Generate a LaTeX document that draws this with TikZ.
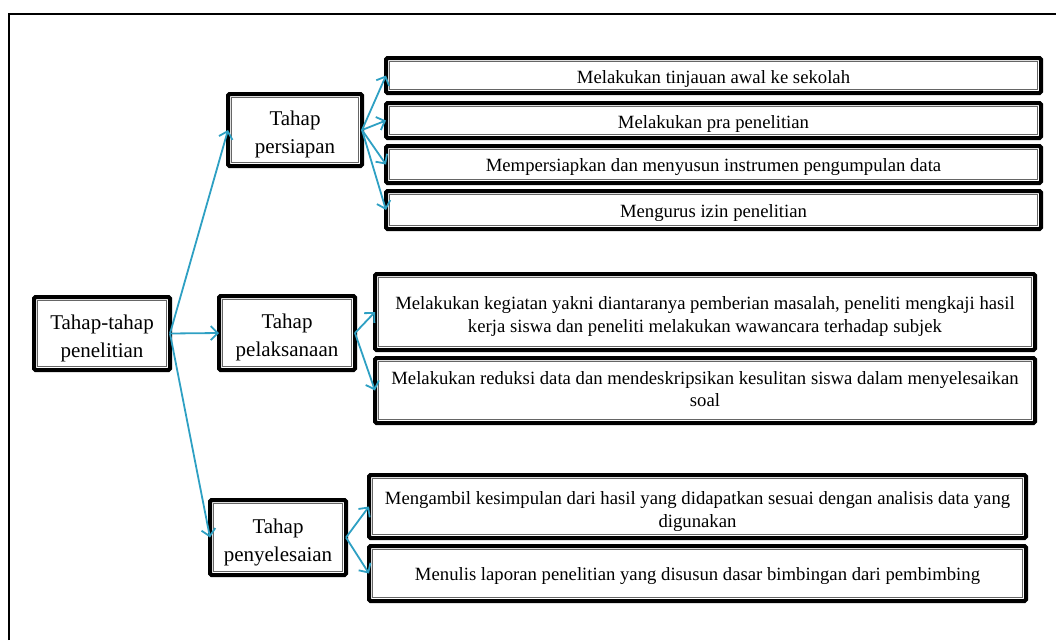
\documentclass[tikz,border=0pt]{standalone}
\usepackage{fontspec}
\setmainfont{Liberation Serif}
\usetikzlibrary{arrows.meta}
\definecolor{arrowc}{RGB}{46,160,195}
\newcommand{\mytxt}[2][4pt]{\raisebox{-#1}[\height][\depth]{\begin{tabular}{@{}c@{}}#2\end{tabular}}}
\tikzset{
  box/.style={draw=black, line width=4pt, rounded corners=1.5pt, inner sep=0pt, outer sep=0pt,
    align=center, fill=white,
    path picture={\draw[line width=1.1pt, draw=black!60, rounded corners=0pt]
      ([shift={(3.8pt,3.8pt)}]path picture bounding box.south west) rectangle
      ([shift={(-3.8pt,-3.8pt)}]path picture bounding box.north east);}},
  midbox/.style={box, font=\fontsize{21pt}{28pt}\selectfont},
  leafbox/.style={box, font=\fontsize{18.7pt}{22.5pt}\selectfont},
  onebox/.style={leafbox, execute at begin node={\rule{0pt}{19pt}}},
  arr/.style={draw=arrowc, line width=1.8pt, -{Straight Barb[length=7pt,width=14pt]}},
}
\begin{document}
\begin{tikzpicture}[x=1pt,y=-1pt]
\useasboundingbox (0,0) rectangle (1056,640);
\draw[line width=1.3pt] (9,640) -- (9,14) -- (1056,14);

\node[midbox, minimum width=136pt, minimum height=73pt] (root) at (102,333.5) {\mytxt{Tahap-tahap\\penelitian}};
\node[midbox, minimum width=134pt, minimum height=72pt] (pers) at (295,130) {\mytxt{Tahap\\persiapan}};
\node[midbox, minimum width=136pt, minimum height=74pt] (pel) at (287,333) {\mytxt{Tahap\\pelaksanaan}};
\node[midbox, minimum width=136pt, minimum height=75pt] (peny) at (278,537.5) {\mytxt{Tahap\\penyelesaian}};

\node[onebox, minimum width=655pt, minimum height=35pt] (l1) at (713.5,75.5) {Melakukan tinjauan awal ke sekolah};
\node[onebox, minimum width=655pt, minimum height=35pt] (l2) at (713.5,120.5) {Melakukan pra penelitian};
\node[onebox, minimum width=655pt, minimum height=37pt] (l3) at (713.5,164.5) {Mempersiapkan dan menyusun instrumen pengumpulan data};
\node[onebox, minimum width=655pt, minimum height=38pt] (l4) at (713.5,210) {Mengurus izin penelitian};

\node[leafbox, minimum width=660pt, minimum height=76pt] (m1) at (705,312) {\mytxt[4.5pt]{Melakukan kegiatan yakni diantaranya pemberian masalah, peneliti mengkaji hasil\\kerja siswa dan peneliti melakukan wawancara terhadap subjek}};
\node[leafbox, minimum width=660pt, minimum height=65pt] (m2) at (705,390.5) {\mytxt[0.5pt]{Melakukan reduksi data dan mendeskripsikan kesulitan siswa dalam menyelesaikan\\soal}};

\node[leafbox, minimum width=657pt, minimum height=63pt] (n1) at (697.5,506.5) {\mytxt[5pt]{Mengambil kesimpulan dari hasil yang didapatkan sesuai dengan analisis data yang\\digunakan}};
\node[onebox, minimum width=657pt, minimum height=55pt] (n2) at (697.5,573.5) {Menulis laporan penelitian yang disusun dasar bimbingan dari pembimbing};

\draw[arr] (root.east) -- (pers.west);
\draw[arr] (root.east) -- (pel.west);
\draw[arr] (root.east) -- (peny.west);

\draw[arr] (pers.east) -- (l1.west);
\draw[arr] (pers.east) -- (l2.west);
\draw[arr] (pers.east) -- (l3.west);
\draw[arr] (pers.east) -- (l4.west);

\draw[arr] (pel.east) -- (m1.west);
\draw[arr] (pel.east) -- (m2.west);

\draw[arr] (peny.east) -- (n1.west);
\draw[arr] (peny.east) -- (n2.west);
\end{tikzpicture}
\end{document}
